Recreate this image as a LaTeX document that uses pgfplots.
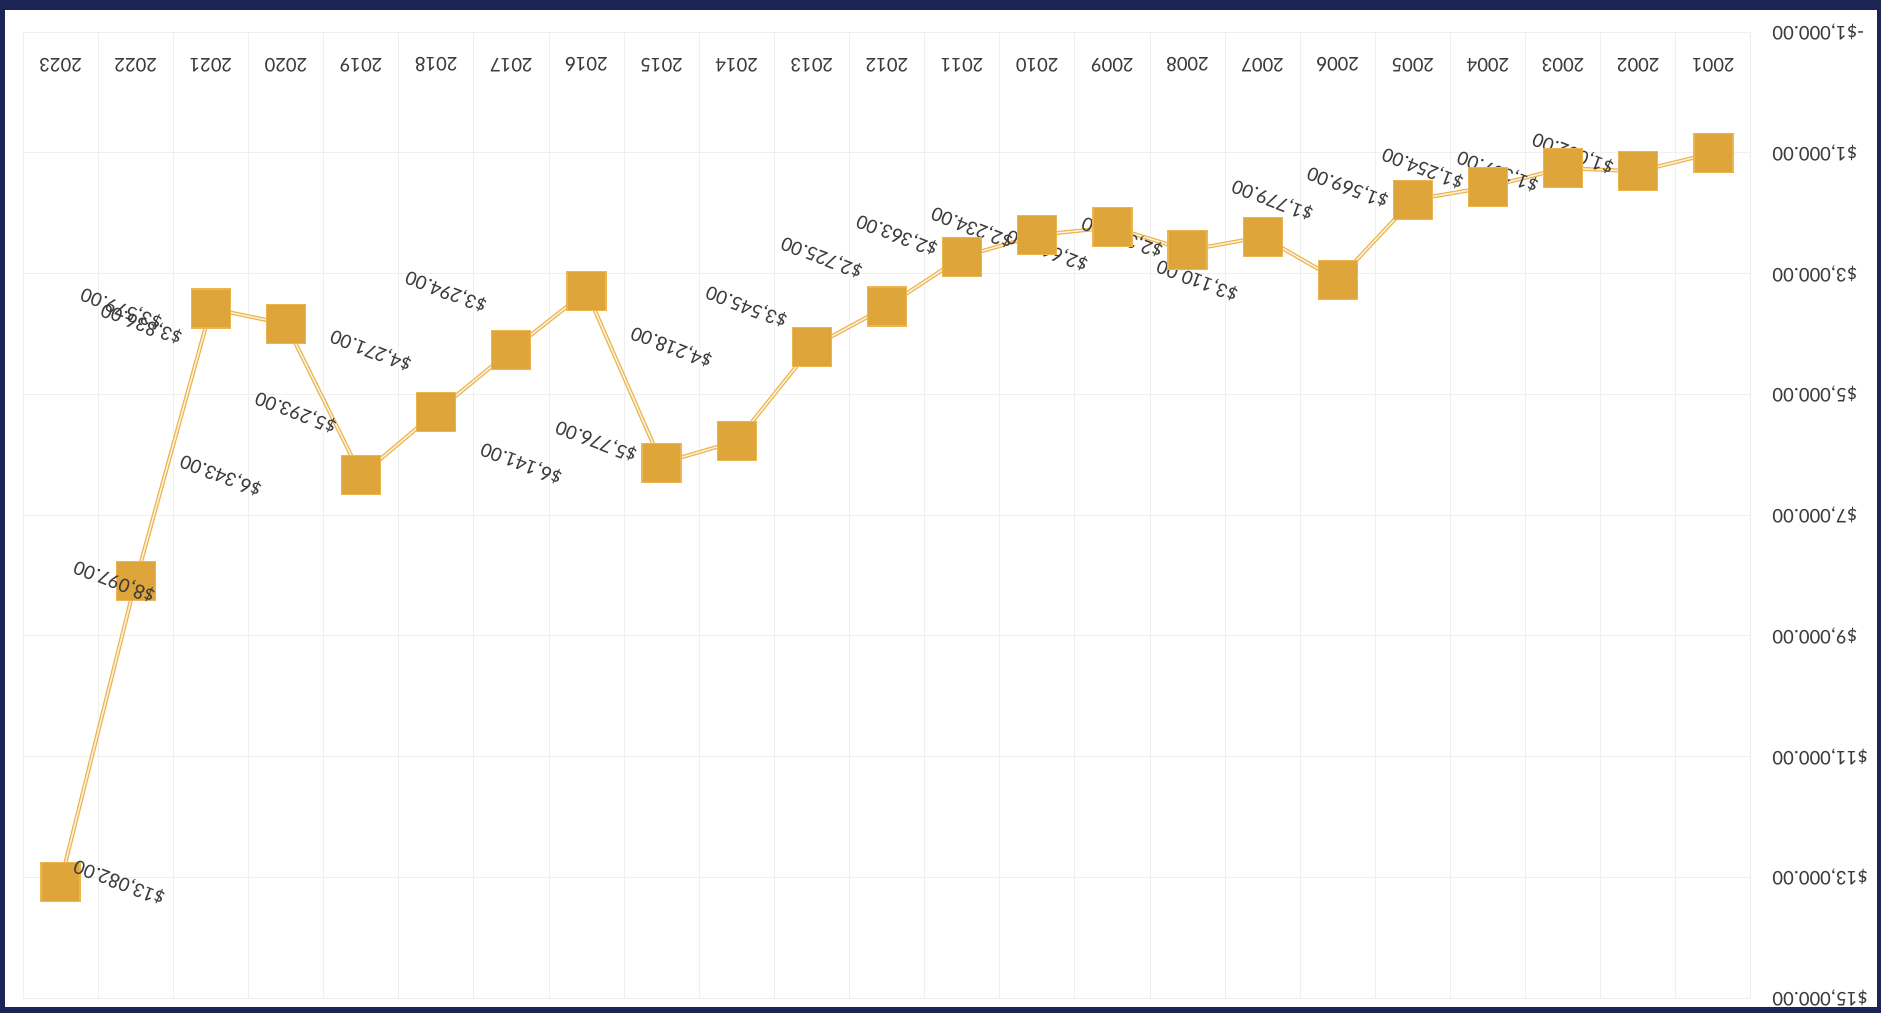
\documentclass[border=0pt]{standalone}
\usepackage{fontspec}
\setmainfont{Carlito}
\usepackage{pgfplots}
\usepackage{pgfplotstable}
\pgfplotsset{compat=1.18}

\definecolor{framec}{HTML}{1B2452}
\definecolor{mk}{HTML}{DEA53B}
\definecolor{ln}{HTML}{EDB450}
\definecolor{lnin}{HTML}{FBF1D8}
\definecolor{txt}{HTML}{3C3C3C}
\definecolor{gridc}{HTML}{EFEFEF}

% year, value, horizontal shift of the value label (pt)
\pgfplotstableread{
year value dx
2001 1002 -56
2002 1307 -56
2003 1254 -56
2004 1569 -56
2005 1779 -56
2006 3110 -56
2007 2392 -56
2008 2616 -56
2009 2234 -56
2010 2363 -56
2011 2725 -56
2012 3545 -56
2013 4218 -56
2014 5776 -56
2015 6141 -56
2016 3294 -56
2017 4271 -56
2018 5293 -56
2019 6343 -56
2020 3836 -57.6
2021 3579 -35.6
2022 8097 -8.4
2023 13082 23.6
}\datatable

\begin{document}
\begin{tikzpicture}
\fill[framec] (-9.2pt,-6pt) rectangle (743.2pt,399.2pt);
\fill[white] (-7.2pt,-3.6pt) rectangle (741.6pt,395.2pt);
\path[use as bounding box] (-9.2pt,-6pt) rectangle (743.2pt,399.2pt);
\begin{axis}[
    at={(0pt,0pt)}, anchor=south west,
    scale only axis, width=691.2pt, height=386.4pt,
    xmin=2000.5, xmax=2023.5, ymin=-1000, ymax=15000,
    x dir=reverse, y dir=reverse,
    axis line style={draw=none},
    major tick length=0pt, minor tick length=0pt,
    scaled y ticks=false,
    xtick={2001,2002,...,2023},
    xticklabels={2001,2002,2003,2004,2005,2006,2007,2008,2009,2010,2011,2012,
      2013,2014,2015,2016,2017,2018,2019,2020,2021,2022,2023},
    minor xtick={2000.5,2001.5,...,2023.5},
    ytick={-1000,1000,3000,5000,7000,9000,11000,13000,15000},
    yticklabels={{-\$1,000.00},{\$1,000.00},{\$3,000.00},{\$5,000.00},{\$7,000.00},
      {\$9,000.00},{\$11,000.00},{\$13,000.00},{\$15,000.00}},
    xminorgrids=true, ymajorgrids=true,
    major grid style={gridc, line width=0.4pt},
    minor grid style={gridc, line width=0.4pt},
    xticklabel pos=upper, yticklabel pos=upper,
    tick label style={font=\fontsize{8.4}{10}\selectfont, text=txt},
    xticklabel style={rotate=180, anchor=center},
    xticklabel shift=-13.2pt,
    yticklabel style={rotate=180, anchor=east, inner sep=0pt},
    yticklabel shift=8.4pt,
    clip=false,
  ]
  \addplot[ln, line width=0.5pt, double=lnin, double distance=0.6pt,
    mark=square*, mark size=7.8pt, mark options={draw=none, fill=mk},
    point meta=explicit,
    visualization depends on={\thisrow{dx} \as \dx},
    nodes near coords={\$\pgfmathprintnumber[fixed, fixed zerofill, precision=2,
      1000 sep={,}, assume math mode=true]{\pgfplotspointmeta}},
    every node near coord/.append style={xshift=\dx pt, rotate=159, anchor=center,
      font=\fontsize{8.4}{10}\selectfont, text=txt, inner sep=0pt},
  ] table[x=year, y=value, meta=value] {\datatable};
\end{axis}
\end{tikzpicture}
\end{document}
